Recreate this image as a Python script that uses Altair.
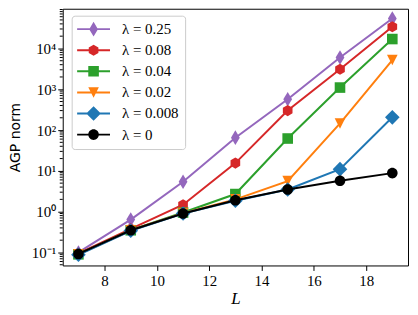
import altair as alt
import pandas as pd
import math

# ---- data ----
L_values = [7, 9, 11, 13, 15, 17, 19]
series_names = ["λ = 0.25", "λ = 0.08", "λ = 0.04", "λ = 0.02", "λ = 0.008", "λ = 0"]
vals_025 = [0.10, 0.64, 5.4, 65, 570, 6000, 54000]
vals_008 = [0.095, 0.38, 1.48, 15.5, 300, 3100, 34000]
vals_004 = [0.09, 0.35, 0.95, 2.7, 62, 1100, 17000]
vals_002 = [0.09, 0.35, 0.92, 2.0, 5.6, 145, 5200]
vals_0008 = [0.088, 0.34, 0.90, 1.85, 3.5, 11, 205]
vals_0 = [0.092, 0.35, 0.90, 1.9, 3.5, 5.7, 8.8]
series_values = [vals_025, vals_008, vals_004, vals_002, vals_0008, vals_0]
colors = ["#9467bd", "#d62728", "#2ca02c", "#ff7f0e", "#1f77b4", "#000000"]
x_ticks = [8, 10, 12, 14, 16, 18]
y_major = [0.1, 1, 10, 100, 1000, 10000]
y_minor = [m * 10 ** k for k in range(-2, 5) for m in range(2, 10)]

Y_DOMAIN = [0.048, 94000]
X_DOMAIN = [6.4, 19.6]

rows = []
for name, vals in zip(series_names, series_values):
    for L, v in zip(L_values, vals):
        rows.append({"series": name, "L": L, "y": v})
df = pd.DataFrame(rows)
minor_df = pd.DataFrame({"y": [v for v in y_minor if Y_DOMAIN[0] <= v <= Y_DOMAIN[1]]})

# ---- marker paths (unit coords, size 196 -> 7 px per unit) ----
h = 0.76
def f(v):
    return f"{v:.3f}"

def circle(r=h):
    return f"M{f(-r)},0A{f(r)},{f(r)} 0 1,1 {f(r)},0A{f(r)},{f(r)} 0 1,1 {f(-r)},0Z"

def poly(pts):
    return "M" + "L".join(f"{f(x)},{f(y)}" for x, y in pts) + "Z"

d = 1.05
hexr = 0.8
marker_paths = [
    poly([(0, -d), (0.6 * d, 0), (0, d), (-0.6 * d, 0)]),              # thin diamond
    poly([(hexr * math.cos(math.radians(a)), hexr * math.sin(math.radians(a)))
          for a in [-90, -30, 30, 90, 150, 210]]),                       # hexagon
    poly([(-h, -h), (h, -h), (h, h), (-h, h)]),                        # square
    poly([(-h, -h), (h, -h), (0, h)]),                                  # triangle down
    poly([(0, -d), (d, 0), (0, d), (-d, 0)]),                           # diamond
    circle(),                                                           # circle
]
lw = 0.14
line_half = 2.36
line_path = poly([(-line_half, -lw), (line_half, -lw), (line_half, lw), (-line_half, lw)])
legend_paths = [line_path + p for p in marker_paths]

serif = "Liberation Serif, Times New Roman, serif"

y_label_expr = ("datum.value < 0.5 ? '10⁻¹' : datum.value < 5 ? '10⁰' : datum.value < 50 ? '10¹' : "
                "datum.value < 500 ? '10²' : datum.value < 5000 ? '10³' : '10⁴'")

def x_enc():
    return alt.X("L:Q", scale=alt.Scale(domain=X_DOMAIN, nice=False, zero=False),
                 axis=alt.Axis(values=x_ticks, title="L", titleFont=serif, titleFontStyle="italic",
                               titleFontSize=17, titleFontWeight="normal", titleColor="black",
                               titleBaseline="alphabetic", titleY=38,
                               labelFont=serif, labelFontSize=15, labelColor="black",
                               tickSize=5, tickColor="black", tickWidth=1, labelPadding=3,
                               grid=False, domain=False, format="d"))

def y_enc():
    return alt.Y("y:Q", scale=alt.Scale(type="log", domain=Y_DOMAIN, nice=False),
                 axis=alt.Axis(values=y_major, labelExpr=y_label_expr, title="AGP norm",
                               titleFont="DejaVu Sans", titleFontSize=14, titleFontWeight="normal",
                               titleColor="black", titleX=-43, titleY=129, titleBaseline="alphabetic",
                               labelFont=serif, labelFontSize=15, labelColor="black",
                               tickSize=5, tickColor="black", tickWidth=1, labelPadding=2,
                               grid=False, domain=False))

layers = []
# minor ticks on the log axis
layers.append(alt.Chart(minor_df).mark_rule(color="black", strokeWidth=1).encode(
    y=y_enc(), x=alt.value(-3), x2=alt.value(0)))

for name, c, p in zip(series_names, colors, marker_paths):
    base = alt.Chart(df).transform_filter(alt.datum.series == name)
    layers.append(base.mark_line(color=c, strokeWidth=2).encode(x=x_enc(), y=y_enc()))
    layers.append(base.mark_point(shape=p, filled=True, size=196, color=c, opacity=1)
                  .encode(x=x_enc(), y=y_enc()))

legend = alt.Legend(title=None, orient="none", legendX=9, legendY=7, padding=6,
                    rowPadding=5.2, symbolSize=196, symbolOffset=8.5, labelOffset=21,
                    labelFont=serif, labelFontSize=15, labelColor="black",
                    fillColor="rgba(255,255,255,0.8)", strokeColor="#cccccc", cornerRadius=3,
                    symbolStrokeWidth=0)
layers.append(
    alt.Chart(df).transform_filter("datum.L > 100")
    .mark_point(filled=True, size=196, opacity=1)
    .encode(x=x_enc(), y=y_enc(),
            color=alt.Color("series:N", scale=alt.Scale(domain=series_names, range=colors), legend=legend),
            shape=alt.Shape("series:N", scale=alt.Scale(domain=series_names, range=legend_paths), legend=legend))
)

chart = alt.layer(*layers).properties(
    width=347, height=258,
    autosize=alt.AutoSizeParams(type="none"),
    padding={"left": 55, "top": 0, "right": 2, "bottom": 41},
).configure_view(stroke="black", strokeWidth=1)

chart.save("out.html", embed_options={"renderer": "svg", "actions": False})
